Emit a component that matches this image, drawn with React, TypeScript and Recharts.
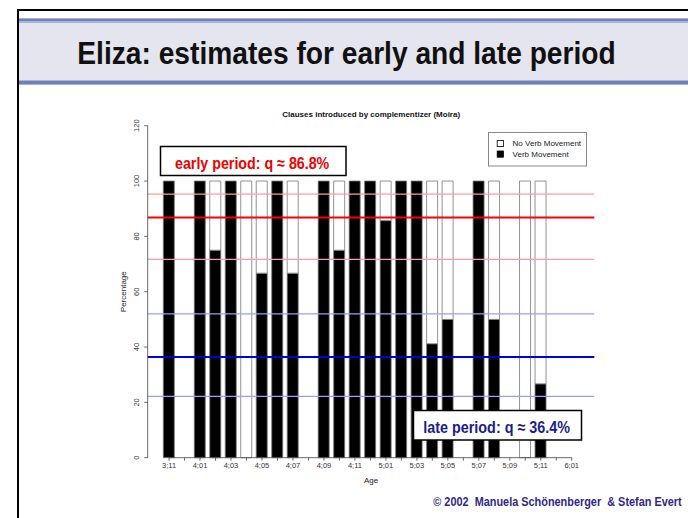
import React from 'react';
import { BarChart, Bar, XAxis, YAxis, ReferenceLine, Legend, Label } from 'recharts';

const ages = ['3;11','4;00','4;01','4;02','4;03','4;04','4;05','4;06','4;07','4;08','4;09','4;10','4;11','5;00','5;01','5;02','5;03','5;04','5;05','5;06','5;07','5;08','5;09','5;10','5;11','6;00','6;01'];
const verbMovement = [100, null, 100, 75, 100, 0, 66.7, 100, 66.7, null, 100, 75, 100, 100, 85.7, 100, 100, 41.2, 50, null, 100, 50, null, 0, 26.7, null, null];
const noVerbMovement = [0, null, 0, 25, 0, 100, 33.3, 0, 33.3, null, 0, 25, 0, 0, 14.3, 0, 0, 58.8, 50, null, 0, 50, null, 100, 73.3, null, null];
const yTicks = [0, 20, 40, 60, 80, 100, 120];
const earlyEstimate = { q: 86.8, upper: 95.3, lower: 71.7 };
const lateEstimate = { q: 36.4, upper: 52.0, lower: 22.2 };
const legendItems = [
  { key: 'noVerb', label: 'No Verb Movement', fill: '#ffffff' },
  { key: 'verb', label: 'Verb Movement', fill: '#000000' },
];

const data = ages.map((age, i) => ({ age, verb: verbMovement[i], noVerb: noVerbMovement[i] }));

const FONT = '"Liberation Sans", Arial, Helvetica, sans-serif';
const NARROW = '"Liberation Sans Narrow", "Liberation Sans", Arial, sans-serif';

const XTick = (props: any) => {
  const { x, y, payload } = props;
  const idx = ages.indexOf(payload.value);
  if (idx % 2 !== 0) return null;
  return (
    <text x={x} y={y} dy="0.71em" textAnchor="middle" fontSize={7.5} fill="#333" fontFamily={FONT}>
      {payload.value}
    </text>
  );
};

const YTick = (props: any) => {
  const { x, y, payload } = props;
  return (
    <text x={x} y={y} transform={`rotate(-90 ${x} ${y})`} textAnchor="middle" fontSize={7.5} fill="#333" fontFamily={FONT}>
      {payload.value}
    </text>
  );
};

const LegendBox = () => (
  <svg width={100} height={35} style={{ display: 'block' }}>
    <rect x={0.5} y={0.5} width={98} height={33.5} fill="#fff" stroke="#888" strokeWidth={1} />
    {legendItems.map((it, i) => (
      <g key={it.key}>
        <rect x={9.2} y={8.4 + i * 10.6} width={6.2} height={6.2} fill={it.fill} stroke="#000" strokeWidth={0.8} />
        <text x={24.6} y={14.3 + i * 10.6} fontSize={8} fill="#222" fontFamily={FONT}>{it.label}</text>
      </g>
    ))}
  </svg>
);

const YLabel = (props: any) => {
  const vb = props.viewBox || {};
  const cx = vb.x + 8.5;
  const cy = vb.y + vb.height / 2;
  return (
    <text x={cx} y={cy} transform={`rotate(-90 ${cx} ${cy})`} textAnchor="middle" fontSize={8} fill="#222" fontFamily={FONT}>
      Percentage
    </text>
  );
};

const XLabel = (props: any) => {
  const vb = props.viewBox || {};
  return (
    <text x={vb.x + vb.width / 2} y={vb.y + 25.2} textAnchor="middle" fontSize={8} fill="#222" fontFamily={FONT}>
      Age
    </text>
  );
};

// horizontally condensed text: scaled group so that the natural glyph box stays inside the page
const Condensed = ({ x, y, width, scale, fontSize, fill, children }: any) => (
  <g transform={`translate(${x} ${y}) scale(${scale} 1)`}>
    <text x={0} y={0} fontSize={fontSize} fontWeight="bold" fill={fill} fontFamily={NARROW}
      textLength={width / scale} lengthAdjust="spacingAndGlyphs" xmlSpace="preserve" style={{ whiteSpace: 'pre' }}>
      {children}
    </text>
  </g>
);

export default function App() {
  return (
    <div style={{ position: 'absolute', left: 0, top: 0, width: 688, height: 518, background: '#fff', overflow: 'hidden', fontFamily: FONT }}>
      {/* slide frame */}
      <div style={{ position: 'absolute', left: 17, top: 9, width: 700, height: 520, borderTop: '2px solid #000', borderLeft: '2px solid #000' }} />
      {/* header band */}
      <div
        style={{
          position: 'absolute', left: 19, top: 18, width: 669, height: 67,
          background: 'linear-gradient(to bottom, #a9b3d6 0px, #a9b3d6 1.5px, #6f7fb9 1.5px, #6f7fb9 3.5px, #a9b3d6 3.5px, #a9b3d6 5px, #e5e5f0 5px, #e5e5f0 62px, #a9b3d6 62px, #a9b3d6 63.5px, #6f7fb9 63.5px, #6f7fb9 65.5px, #a9b3d6 65.5px, #a9b3d6 67px)',
        }}
      />
      <svg width={688} height={90} style={{ position: 'absolute', left: 0, top: 0 }}>
        <Condensed x={77.3} y={64} width={538.4} scale={0.86} fontSize={32} fill="#111">
          Eliza: estimates for early and late period
        </Condensed>
      </svg>

      <div style={{ position: 'absolute', left: 0, top: 0 }}>
        <BarChart
          width={688}
          height={518}
          data={data}
          margin={{ top: 125.7, right: 93.7, bottom: 30.3, left: 117.7 }}
          barSize={11}
        >
          <XAxis
            dataKey="age"
            interval={0}
            axisLine={false}
            tickLine={{ stroke: '#444', strokeWidth: 0.8 }}
            tickSize={3}
            tickMargin={2.3}
            tick={<XTick />}
            height={30}
            padding={{ left: 13.6, right: 14.8 }}
          >
            <Label content={<XLabel />} />
          </XAxis>
          <YAxis
            domain={[0, 120]}
            ticks={yTicks}
            interval={0}
            width={30}
            axisLine={{ stroke: '#444', strokeWidth: 0.8 }}
            tickLine={{ stroke: '#444', strokeWidth: 0.8 }}
            tickSize={3.5}
            tickMargin={4.8}
            tick={<YTick />}
          >
            <Label content={<YLabel />} />
          </YAxis>
          <Legend
            layout="horizontal"
            verticalAlign="middle"
            align="center"
            wrapperStyle={{ left: 487.7, top: 132.3, width: 100, height: 35 }}
            content={<LegendBox />}
          />
          <Bar dataKey="verb" name="Verb Movement" stackId="a" fill="#000" stroke="#777" strokeWidth={0.8} isAnimationActive={false} />
          <Bar dataKey="noVerb" name="No Verb Movement" stackId="a" fill="#fff" stroke="#777" strokeWidth={0.8} isAnimationActive={false} />
          <ReferenceLine segment={[{ x: ages[0], y: 0 }, { x: ages[ages.length - 1], y: 0 }]} stroke="#444" strokeWidth={0.8} />
          <ReferenceLine y={earlyEstimate.upper} stroke="#ff9c9c" strokeWidth={1.2} />
          <ReferenceLine y={earlyEstimate.q} stroke="#ff0000" strokeWidth={2} />
          <ReferenceLine y={earlyEstimate.lower} stroke="#ff9c9c" strokeWidth={1.2} />
          <ReferenceLine y={lateEstimate.upper} stroke="#9c9cff" strokeWidth={1.2} />
          <ReferenceLine y={lateEstimate.q} stroke="#0000dd" strokeWidth={2} />
          <ReferenceLine y={lateEstimate.lower} stroke="#9c9cff" strokeWidth={1.2} />
        </BarChart>
      </div>

      <svg width={688} height={518} style={{ position: 'absolute', left: 0, top: 0, pointerEvents: 'none' }}>
        <text x={371.2} y={117} textAnchor="middle" fontSize={8} fontWeight="bold" fill="#111" fontFamily={FONT}>
          Clauses introduced by complementizer (Moira)
        </text>
        <rect x={160.5} y={146.5} width={185.5} height={29} fill="#fff" stroke="#000" strokeWidth={1.5} />
        <Condensed x={175} y={168.6} width={154.3} scale={0.86} fontSize={17} fill="#ee0000">
          {`early period: q \u2248 ${earlyEstimate.q}%`}
        </Condensed>
        <rect x={413.5} y={410.5} width={168} height={29.5} fill="#fff" stroke="#000" strokeWidth={1.5} />
        <Condensed x={423.3} y={432.6} width={146.7} scale={0.86} fontSize={17} fill="#1c1c8c">
          {`late period: q \u2248 ${lateEstimate.q}%`}
        </Condensed>
        <Condensed x={433.3} y={505.5} width={248.4} scale={0.84} fontSize={12.5} fill="#302888">
          {'\u00A9 2002  Manuela Sch\u00F6nenberger  & Stefan Evert'}
        </Condensed>
      </svg>
    </div>
  );
}
